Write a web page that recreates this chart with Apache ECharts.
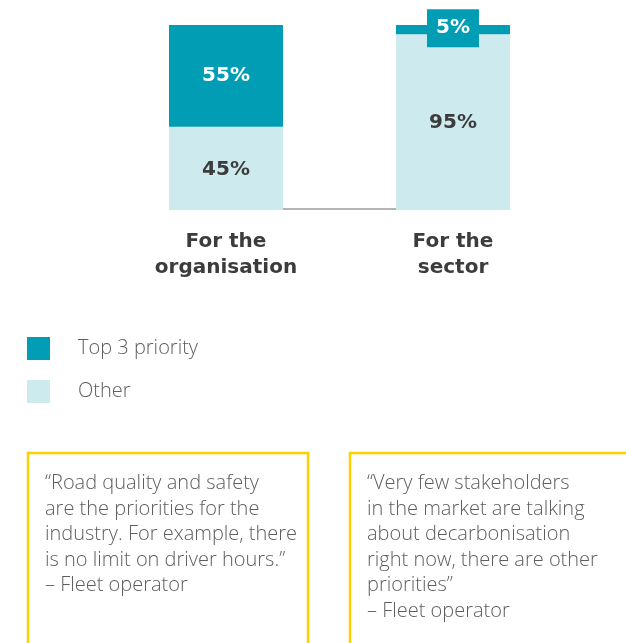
<!DOCTYPE html>
<html>
<head>
<meta charset="utf-8">
<script src="https://cdn.jsdelivr.net/npm/echarts@6/dist/echarts.min.js"></script>
<style>
  html, body { margin: 0; padding: 0; background: #ffffff; }
  #chart { width: 626px; height: 643px; }
</style>
</head>
<body>
<div id="chart"></div>
<script>
// Share of respondents ranking decarbonisation as a top-3 priority
const categories = ['For the\norganisation', 'For the\nsector'];
const top3Priority = [55, 5];
const otherPriority = [45, 95];
const seriesNames = ['Top 3 priority', 'Other'];

const quoteLeft = '\u201CRoad quality and safety\nare the priorities for the\nindustry. For example, there\nis no limit on driver hours.\u201D\n\u2013 Fleet operator';
const quoteRight = '\u201CVery few stakeholders\nin the market are talking\nabout decarbonisation\nright now, there are other\npriorities\u201D\n\u2013 Fleet operator';

const TEAL = '#009db4';
const LIGHT = '#cdebef';
const DARK = '#3c3c3c';
const GREY = '#5e5e5e';
const YELLOW = '#ffcf00';
const BOLD_FONT = '"DejaVu Sans", sans-serif';
const LIGHT_FONT = '"Open Sans", Lato, sans-serif';

const chart = echarts.init(document.getElementById('chart'), null, { renderer: 'canvas' });

chart.setOption({
  animation: false,
  backgroundColor: '#ffffff',
  grid: { left: 226, right: 173, top: 25, bottom: 433, containLabel: false },
  xAxis: {
    type: 'category',
    data: categories,
    boundaryGap: false,
    offset: -1,
    axisLine: { show: true, lineStyle: { color: '#b4b4b4', width: 2 } },
    axisTick: { show: false },
    axisLabel: {
      interval: 0,
      margin: 20,
      color: DARK,
      fontFamily: BOLD_FONT,
      fontWeight: 'bold',
      fontSize: 20,
      lineHeight: 26
    }
  },
  yAxis: {
    type: 'value',
    min: 0,
    max: 100,
    show: false,
    splitLine: { show: false }
  },
  legend: {
    orient: 'vertical',
    left: 27,
    top: 337,
    padding: 0,
    itemWidth: 23,
    itemHeight: 23,
    itemGap: 20,
    icon: 'rect',
    data: seriesNames,
    textStyle: {
      color: GREY,
      fontFamily: LIGHT_FONT,
      fontWeight: 300,
      fontSize: 20,
      padding: [0, 0, 0, 23]
    }
  },
  series: [
    {
      name: seriesNames[1],
      type: 'bar',
      stack: 'total',
      barWidth: 114,
      z: 3,
      itemStyle: { color: LIGHT },
      data: otherPriority,
      label: {
        show: true,
        position: 'inside',
        formatter: '{c}%',
        color: DARK,
        fontFamily: BOLD_FONT,
        fontWeight: 'bold',
        fontSize: 20,
        offset: [0, 1]
      }
    },
    {
      name: seriesNames[0],
      type: 'bar',
      stack: 'total',
      barWidth: 114,
      z: 3,
      itemStyle: { color: TEAL },
      data: top3Priority.map(function (v) {
        if (v < 10) {
          return {
            value: v,
            label: {
              backgroundColor: TEAL,
              padding: [9, 9, 9, 9],
              offset: [0, -1.5]
            }
          };
        }
        return v;
      }),
      label: {
        show: true,
        position: 'inside',
        formatter: '{c}%',
        color: '#ffffff',
        fontFamily: BOLD_FONT,
        fontWeight: 'bold',
        fontSize: 20
      }
    }
  ],
  graphic: [
    {
      type: 'rect',
      shape: { x: 28, y: 453, width: 280, height: 260 },
      style: { fill: 'none', stroke: YELLOW, lineWidth: 2.5 }
    },
    {
      type: 'rect',
      shape: { x: 350, y: 453, width: 300, height: 260 },
      style: { fill: 'none', stroke: YELLOW, lineWidth: 2.5 }
    },
    {
      type: 'text',
      x: 45,
      y: 471,
      style: {
        text: quoteLeft,
        fill: GREY,
        font: '300 20px ' + LIGHT_FONT,
        lineHeight: 25.5
      }
    },
    {
      type: 'text',
      x: 367,
      y: 471,
      style: {
        text: quoteRight,
        fill: GREY,
        font: '300 20px ' + LIGHT_FONT,
        lineHeight: 25.5
      }
    }
  ]
});
</script>
</body>
</html>
